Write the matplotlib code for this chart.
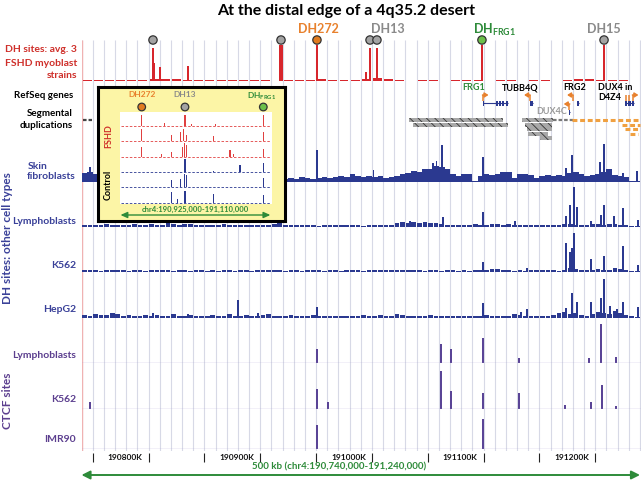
import numpy as np
import matplotlib
matplotlib.use("Agg")
import matplotlib.pyplot as plt

plt.rcParams['font.family'] = ['Lato', 'DejaVu Sans']
plt.rcParams['font.weight'] = 'bold'
plt.rcParams['mathtext.fontset'] = 'custom'
plt.rcParams['mathtext.rm'] = 'Lato:bold'
plt.rcParams['mathtext.it'] = 'Lato:bold'
plt.rcParams['mathtext.bf'] = 'Lato:bold'
plt.rcParams['hatch.linewidth'] = 0.6

# ------------------------------------------------------------------ data (kb)
region_start, region_end = 190740, 191240
grid_step = 10
tick_minor = [190750, 190850, 190950, 191050, 191150]
tick_major = [190800, 190900, 191000, 191100, 191200]
tick_labels = ["190800K", "190900K", "191000K", "191100K", "191200K"]

dh_sites_kb = [190804.0, 190918.6, 190950.8, 190998.3, 191004.5, 191098.5, 191207.8]
dh_sites_kind = ['other', 'other', 'DH272', 'other', 'other', 'FRG1', 'other']

# FSHD myoblasts (average of 3)
fshd_peaks_kb = [190804.0, 190805.4, 190810.3, 190835.3, 190918.6, 190950.8,
                 190994.7, 190998.3, 191004.5, 191098.5, 191207.8]
fshd_peaks_h = [0.89, 0.49, 0.38, 0.41, 0.97, 0.97, 0.24, 0.89, 0.89, 0.97, 0.97]
fshd_peaks_w = [1.2, 1.2, 1.2, 1.2, 3.0, 1.5, 1.2, 1.5, 2.5, 1.5, 1.5]
fshd_bg = [0.03, 0.04, 0.03, 0.03, 0.04, 0.03, 0.05, 0.06, 0.05, 0.03,
           0.03, 0.04, 0.02, 0.03, 0.03, 0.04, 0.03, 0.00, 0.03, 0.03,
           0.04, 0.05, 0.04, 0.03, 0.04, 0.06, 0.07, 0.06, 0.03, 0.00,
           0.03, 0.02, 0.00, 0.03, 0.02, 0.03, 0.00, 0.02, 0.03, 0.00,
           0.02, 0.03, 0.00, 0.02, 0.05, 0.06, 0.04, 0.03, 0.02, 0.00]

# DH, other cell types (5 kb bins + peaks)
skin_bg = [0.22, 0.25, 0.20, 0.15, 0.16, 0.15, 0.17, 0.15, 0.14, 0.15,
           0.15, 0.14, 0.15, 0.17, 0.15, 0.14, 0.15, 0.15, 0.17, 0.15,
           0.14, 0.15, 0.15, 0.14, 0.15, 0.17, 0.15, 0.14, 0.15, 0.15,
           0.14, 0.15, 0.17, 0.15, 0.10, 0.09, 0.08, 0.10, 0.07, 0.12,
           0.10, 0.08, 0.10, 0.12, 0.10, 0.12, 0.15, 0.12, 0.20, 0.14,
           0.12, 0.14, 0.12, 0.15, 0.10, 0.12, 0.15, 0.18, 0.22, 0.26,
           0.25, 0.30, 0.32, 0.38, 0.35, 0.30, 0.20, 0.14, 0.20, 0.18,
           0.03, 0.15, 0.18, 0.16, 0.20, 0.25, 0.24, 0.10, 0.20, 0.18,
           0.16, 0.10, 0.14, 0.16, 0.14, 0.17, 0.15, 0.22, 0.25, 0.20,
           0.15, 0.16, 0.18, 0.25, 0.30, 0.16, 0.15, 0.12, 0.03, 0.03]
skin_peaks_kb = [190747.6, 190950.8, 191001.4, 191054.7, 191058.0, 191062.7, 191099.4,
                 191173.8, 191179.2, 191204.2, 191207.8, 191224.8, 191237.3]
skin_peaks_h = [0.35, 0.76, 0.29, 0.45, 0.50, 0.88, 0.60, 0.33, 0.64, 0.48, 0.90, 0.21, 0.26]

lymph_bg = [0.05, 0.06, 0.04, 0.05, 0.07, 0.05, 0.04, 0.06, 0.05, 0.08,
            0.06, 0.05, 0.07, 0.06, 0.05, 0.09, 0.07, 0.06, 0.08, 0.07,
            0.06, 0.05, 0.04, 0.06, 0.05, 0.07, 0.06, 0.05, 0.04, 0.06,
            0.05, 0.04, 0.06, 0.05, 0.07, 0.10, 0.06, 0.05, 0.04, 0.06,
            0.05, 0.04, 0.03, 0.05, 0.04, 0.06, 0.05, 0.04, 0.05, 0.04,
            0.03, 0.04, 0.05, 0.04, 0.06, 0.05, 0.10, 0.12, 0.10, 0.12,
            0.10, 0.12, 0.11, 0.09, 0.08, 0.06, 0.05, 0.04, 0.06, 0.05,
            0.07, 0.06, 0.05, 0.08, 0.07, 0.06, 0.08, 0.06, 0.04, 0.05,
            0.04, 0.06, 0.05, 0.04, 0.05, 0.06, 0.08, 0.07, 0.06, 0.05,
            0.06, 0.07, 0.08, 0.06, 0.07, 0.08, 0.06, 0.04, 0.03, 0.03]
lymph_peaks_kb = [191034.1, 191063.6, 191099.4, 191128.1, 191173.8, 191177.4, 191181.0,
                  191183.7, 191196.1, 191205.1, 191207.8, 191216.7, 191224.8, 191238.2]
lymph_peaks_h = [0.15, 0.25, 0.37, 0.15, 0.27, 0.56, 1.00, 0.50, 0.14, 0.31, 0.56, 0.27, 0.48, 0.17]

k562_bg = [0.06, 0.04, 0.05, 0.03, 0.04, 0.06, 0.05, 0.04, 0.03, 0.05,
           0.04, 0.03, 0.05, 0.04, 0.06, 0.04, 0.03, 0.04, 0.05, 0.03,
           0.04, 0.05, 0.03, 0.04, 0.03, 0.05, 0.04, 0.03, 0.05, 0.04,
           0.03, 0.04, 0.05, 0.06, 0.04, 0.05, 0.03, 0.04, 0.05, 0.03,
           0.04, 0.05, 0.04, 0.03, 0.05, 0.04, 0.03, 0.04, 0.05, 0.04,
           0.03, 0.05, 0.04, 0.06, 0.05, 0.04, 0.05, 0.06, 0.04, 0.05,
           0.04, 0.03, 0.05, 0.04, 0.03, 0.04, 0.05, 0.03, 0.04, 0.03,
           0.04, 0.05, 0.06, 0.08, 0.07, 0.05, 0.04, 0.03, 0.04, 0.03,
           0.05, 0.04, 0.06, 0.05, 0.04, 0.03, 0.05, 0.10, 0.08, 0.05,
           0.04, 0.05, 0.08, 0.06, 0.05, 0.09, 0.07, 0.04, 0.02, 0.02]
k562_peaks_kb = [191099.4, 191138.8, 191173.8, 191177.4, 191179.2, 191181.0,
                 191196.1, 191207.8, 191224.8, 191238.2]
k562_peaks_h = [0.25, 0.10, 0.72, 0.50, 0.60, 0.98, 0.32, 0.40, 0.64, 0.17]

hepg2_bg = [0.08, 0.06, 0.10, 0.08, 0.07, 0.11, 0.09, 0.06, 0.08, 0.05,
            0.06, 0.08, 0.05, 0.07, 0.06, 0.05, 0.09, 0.06, 0.05, 0.07,
            0.05, 0.06, 0.04, 0.07, 0.06, 0.05, 0.10, 0.06, 0.05, 0.07,
            0.06, 0.05, 0.07, 0.09, 0.06, 0.05, 0.06, 0.08, 0.05, 0.06,
            0.05, 0.07, 0.05, 0.06, 0.04, 0.06, 0.05, 0.04, 0.06, 0.05,
            0.07, 0.06, 0.05, 0.08, 0.06, 0.05, 0.09, 0.07, 0.06, 0.05,
            0.06, 0.05, 0.07, 0.05, 0.06, 0.04, 0.05, 0.06, 0.04, 0.05,
            0.06, 0.05, 0.07, 0.06, 0.05, 0.04, 0.06, 0.10, 0.08, 0.06,
            0.05, 0.04, 0.06, 0.05, 0.07, 0.12, 0.15, 0.10, 0.12, 0.08,
            0.06, 0.10, 0.14, 0.12, 0.10, 0.16, 0.12, 0.08, 0.04, 0.02]
hepg2_peaks_kb = [190804.0, 190835.3, 190880.1, 190898.0, 190950.8, 191099.4, 191133.5,
                  191138.8, 191173.8, 191179.2, 191183.7, 191196.1, 191205.1, 191207.8,
                  191213.2, 191219.4, 191224.8, 191238.2]
hepg2_peaks_h = [0.12, 0.10, 0.43, 0.12, 0.26, 0.37, 0.15, 0.21, 0.24, 0.60, 0.40, 0.39,
                 0.50, 0.96, 0.30, 0.22, 0.39, 0.26]

# CTCF sites
ctcf_lymph_kb = [190950.8, 191061.8, 191070.8, 191099.4, 191131.7, 191194.3, 191205.1, 191218.5]
ctcf_lymph_h = [0.36, 0.48, 0.36, 0.63, 0.13, 0.12, 0.98, 0.14]
ctcf_k562_kb = [190747.6, 190950.8, 190960.7, 191061.8, 191070.8, 191099.4, 191131.7,
                191172.9, 191196.1, 191206.0, 191218.5]
ctcf_k562_h = [0.16, 0.50, 0.17, 0.93, 0.45, 0.39, 0.39, 0.09, 0.17, 0.59, 0.08]
ctcf_imr90_kb = [190950.8, 191099.4]
ctcf_imr90_h = [0.66, 0.82]

# RefSeq genes
gene_names = ['FRG1', 'TUBB4Q', 'FRG2', 'DUX4C', 'DUX4']
gene_strand = ['+', '-', '-', '-', '+']
gene_start = [191099.4, 191141.5, 191183.3, 191176.0, 191226.6]
gene_end = [191122.1, 191143.9, 191185.7, 191177.3, 191234.6]
gene_exons = [[(191099.4, 191100.3), (191111.1, 191112.6), (191113.8, 191115.4),
               (191116.5, 191118.3), (191119.8, 191122.1)],
              [(191141.5, 191143.9)],
              [(191183.3, 191185.7)],
              [(191176.0, 191177.3)],
              [(191226.6, 191228.4), (191229.7, 191231.5), (191232.8, 191234.6)]]
gene_tss = [[191099.4], [191141.2], [191179.7], [191176.7], [191227.2, 191230.4, 191233.6]]

# Segmental duplications
segdup_start = [191033.2, 191036.8, 191134.4, 191137.1, 191138.9, 191139.8, 191150.5]
segdup_end = [191117.3, 191121.8, 191162.2, 191161.3, 191161.3, 191157.7, 191161.3]
segdup_row = [0, 1, 0, 1, 2, 3, 4]
segdash_start = [190741.3, 191162.2, 191179.2, 191223.9, 191226.6, 191231.1]
segdash_end = [190749.4, 191180.1, 191240.0, 191240.0, 191240.0, 191238.2]
segdash_row = [0, 0, 0, 1, 2, 3]
segdash_kind = ['dark', 'gray', 'orange', 'orange', 'orange', 'orange']

# Inset: chr4:190,925,000-191,110,000, 3 FSHD and 3 control strains
inset_start, inset_end = 190925, 191110
inset_sites_kb = [190951.2, 191004.6, 191101.3]
inset_rows_kb = [
    [190951.2, 190979.9, 191004.6, 191012.9, 191041.7, 191101.3],
    [190951.2, 190988.2, 190998.5, 191003.0, 191006.0, 191039.6, 191101.3],
    [190951.2, 190975.9, 190988.2, 191001.0, 191004.0, 191006.5, 191060.2, 191064.0, 191101.3],
    [191004.6, 191039.6, 191072.5, 191101.3],
    [190988.2, 190998.5, 191003.5, 191006.0, 191101.3],
    [190988.2, 190995.0, 191004.6, 191039.6, 191101.3],
]
inset_rows_h = [
    [0.85, 0.25, 0.85, 0.12, 0.15, 0.85],
    [0.90, 0.50, 0.70, 0.90, 0.50, 0.40, 0.70],
    [0.70, 0.20, 0.35, 0.70, 1.00, 0.85, 0.50, 0.20, 0.60],
    [1.00, 0.10, 0.50, 0.70],
    [0.55, 0.60, 1.00, 0.95, 0.70],
    [0.80, 0.30, 0.90, 0.65, 0.60],
]
inset_rows_group = ['FSHD', 'FSHD', 'FSHD', 'Control', 'Control', 'Control']

# ------------------------------------------------------------------ style / layout
W, H = 641, 482
RED = '#d7262c'
RED_TXT = '#cf2f2a'
BLUE = '#2b3990'
BLUE_TXT = '#3a4199'
PURPLE = '#5a4496'
PURPLE_TXT = '#5c3f8f'
GREEN = '#2e8b3a'
ORANGE = '#e8812d'
GRID = '#d7d9e6'
site_fill = {'other': '#a3a3a3', 'DH272': '#e07b20', 'FRG1': '#6cc04a'}

PX_PER_KB = 1.117
DATA_LEFT = 81.5
XLIM = (region_start, region_start + (W - DATA_LEFT) / PX_PER_KB)
INSET_PX_PER_KB = 0.81
INSET_LEFT = 120.5


def kb_at(px):
    return region_start + (px - DATA_LEFT) / PX_PER_KB


def inset_kb_at(px):
    return inset_start + (px - INSET_LEFT) / INSET_PX_PER_KB


fig = plt.figure(figsize=(W / 100, H / 100), dpi=100)


def add_axes_px(x0, y0, x1, y1):
    return fig.add_axes([x0 / W, 1 - y1 / H, (x1 - x0) / W, (y1 - y0) / H])


def ftext(x, y, s, **kw):
    fig.text(x / W, 1 - y / H, s, **kw)


# grid
gax = add_axes_px(DATA_LEFT, 40, W, 451)
gax.set_xlim(XLIM)
gax.set_ylim(0, 1)
gax.axis('off')
gax.set_zorder(1)
grid_kb = np.arange(region_start, region_end + 1, grid_step)
gax.vlines(grid_kb, 0, 1, color=GRID, lw=0.8)
gax.vlines([region_start], 0, 1, color='#f0b2b2', lw=1.0)


def track(top, bottom, zorder=3):
    ax = add_axes_px(DATA_LEFT, top, W, bottom)
    ax.set_xlim(XLIM)
    ax.set_ylim(0, 1)
    ax.axis('off')
    ax.set_zorder(zorder)
    return ax


bins50 = region_start + 5 + 10 * np.arange(len(fshd_bg))
bins100 = region_start + 2.5 + 5 * np.arange(len(skin_bg))

# FSHD track
ax = track(44, 81)
ax.bar(bins50, fshd_bg, width=8, color=RED, lw=0)
ax.bar(fshd_peaks_kb, fshd_peaks_h, width=fshd_peaks_w, color=RED, lw=0)

# DH other cell types
for (top, bot), bg, pk, ph, bw in [((140, 182), skin_bg, skin_peaks_kb, skin_peaks_h, 5.0),
                                   ((187, 227), lymph_bg, lymph_peaks_kb, lymph_peaks_h, 4.2),
                                   ((232, 272), k562_bg, k562_peaks_kb, k562_peaks_h, 4.2),
                                   ((277, 318), hepg2_bg, hepg2_peaks_kb, hepg2_peaks_h, 4.2)]:
    ax = track(top, bot)
    ax.plot([region_start, region_end], [0.005, 0.005], color=BLUE, lw=0.7)
    ax.bar(bins100, bg, width=bw, color=BLUE, lw=0)
    ax.bar(pk, ph, width=1.3, color=BLUE, lw=0)

# CTCF tracks
for (top, bot), pk, ph in [((323, 363), ctcf_lymph_kb, ctcf_lymph_h),
                           ((368, 409), ctcf_k562_kb, ctcf_k562_h),
                           ((412, 449), ctcf_imr90_kb, ctcf_imr90_h)]:
    ax = track(top, bot)
    ax.plot([region_start, region_end], [0.01, 0.01], color='#9c8fc9', lw=0.9)
    ax.bar(pk, ph, width=1.2, color=PURPLE, lw=0)

# overlay (x in kb, y in pixels)
ov = add_axes_px(DATA_LEFT, 0, W, H)
ov.set_xlim(XLIM)
ov.set_ylim(H, 0)
ov.axis('off')
ov.set_zorder(4)

ov.scatter(dh_sites_kb, [40] * len(dh_sites_kb), s=36,
           c=[site_fill[k] for k in dh_sites_kind], edgecolors='#333333',
           linewidths=0.9, zorder=6, clip_on=False)
ov.text(kb_at(318), 29, 'DH272', color=ORANGE, fontsize=9, ha='center', va='center')
ov.text(kb_at(388), 29, 'DH13', color='#8a8a8a', fontsize=9, ha='center', va='center')
ov.text(kb_at(494), 30, r'DH$_{\rm FRG1}$', color=GREEN, fontsize=9, ha='center', va='center')
ov.text(kb_at(604), 29, 'DH15', color='#8a8a8a', fontsize=9, ha='center', va='center')

# genes
gene_y = {'FRG1': 103, 'TUBB4Q': 103, 'FRG2': 103, 'DUX4C': 112, 'DUX4': 103}
for name, strand, g0, g1, exons, tss in zip(gene_names, gene_strand, gene_start,
                                             gene_end, gene_exons, gene_tss):
    y = gene_y[name]
    ov.plot([g0, g1], [y, y], color=BLUE, lw=0.8, solid_capstyle='butt')
    for e0, e1 in exons:
        ov.barh(y, e1 - e0, left=e0, height=5, color=BLUE, lw=0)
    d = 5.0 if strand == '+' else -5.0
    for i, t in enumerate(tss):
        ov.plot([t, t], [y - 2, y - 8], color=ORANGE, lw=1.1, solid_capstyle='butt')
        if i == len(tss) - 1:
            ov.annotate('', xy=(t + d, y - 8), xytext=(t - 0.4 * np.sign(d), y - 8),
                        arrowprops=dict(arrowstyle='-|>,head_length=0.22,head_width=0.14',
                                        color=ORANGE, lw=1.1, shrinkA=0, shrinkB=0))

ov.text(kb_at(474), 88, 'FRG1', color=GREEN, fontsize=6.5, ha='center', va='center')
ov.text(kb_at(520), 88, 'TUBB4Q', color='black', fontsize=6.5, ha='center', va='center')
ov.text(kb_at(575), 88, 'FRG2', color='black', fontsize=6.5, ha='center', va='center')
ov.text(kb_at(598), 88, 'DUX4 in', color='black', fontsize=6.5, ha='left', va='center')
ov.text(kb_at(598), 98, 'D4Z4', color='black', fontsize=6.5, ha='left', va='center')
ov.text(kb_at(552), 112, 'DUX4C', color='#9a9a9a', fontsize=6.5, ha='center', va='center')

# segmental duplications
row_y = [120, 124.5, 129, 133.5, 138]
ov.barh([row_y[r] for r in segdup_row],
        [e - s for s, e in zip(segdup_start, segdup_end)], left=segdup_start,
        height=4, color='#a8a8a8', edgecolor='#333333', hatch='\\\\\\\\', lw=0)
dash_col = {'dark': '#444444', 'gray': '#777777', 'orange': '#f0a040'}
for s, e, r, k in zip(segdash_start, segdash_end, segdash_row, segdash_kind):
    ov.plot([s, e], [row_y[r], row_y[r]], color=dash_col[k],
            lw=2.2 if k == 'orange' else 1.6, ls=(0, (1.6, 0.9)), solid_capstyle='butt')

# coordinate axis
ov.vlines(tick_minor + tick_major, 453, 462, color='#222222', lw=0.8)
for t, lab in zip(tick_major, tick_labels):
    ov.text(t - 6 / PX_PER_KB, 458, lab, fontsize=6, ha='right', va='center', color='#111111')
ov.annotate('', xy=(region_start, 475), xytext=(region_end, 475),
            arrowprops=dict(arrowstyle='<|-|>,head_length=0.5,head_width=0.25',
                            color=GREEN, lw=1.4, shrinkA=0, shrinkB=0))
ov.text(kb_at(339), 466.5, '500 kb (chr4:190,740,000-191,240,000)', color=GREEN,
        fontsize=7, ha='center', va='center')

# ------------------------------------------------------------------ inset
box = add_axes_px(98, 87, 285, 221)
box.set_zorder(10)
box.set_facecolor('#fcf5a6')
box.set_xlim(inset_kb_at(98), inset_kb_at(285))
box.set_ylim(221, 87)
box.set_xticks([])
box.set_yticks([])
for sp in box.spines.values():
    sp.set_linewidth(2.2)
    sp.set_color('black')

box.scatter(inset_sites_kb, [107] * 3, s=30, c=['#e07b20', '#a3a3a3', '#6cc04a'],
            edgecolors='#333333', linewidths=0.9, zorder=5)
box.text(inset_kb_at(142), 95, 'DH272', color=ORANGE, fontsize=6, ha='center', va='center')
box.text(inset_kb_at(185), 95, 'DH13', color='#8a8a8a', fontsize=6, ha='center', va='center')
box.text(inset_kb_at(262), 96, r'DH$_{\rm FRG1}$', color=GREEN, fontsize=6, ha='center', va='center')
box.text(inset_kb_at(108.5), 136.5, 'FSHD', color=RED_TXT, fontsize=6.5, rotation=90,
         ha='center', va='center')
box.text(inset_kb_at(108.5), 185, 'Control', color='black', fontsize=6.5, rotation=90,
         ha='center', va='center')
box.annotate('', xy=(inset_start, 215), xytext=(inset_end, 215),
             arrowprops=dict(arrowstyle='<|-|>,head_length=0.4,head_width=0.18',
                             color=GREEN, lw=1.0, shrinkA=0, shrinkB=0))
box.text((inset_start + inset_end) / 2, 209.5, 'chr4:190,925,000-191,110,000', color=GREEN,
         fontsize=5.5, ha='center', va='center')

wax = add_axes_px(120, 112, 272, 204)
wax.set_zorder(11)
wax.set_facecolor('white')
wax.set_xticks([])
wax.set_yticks([])
for sp in wax.spines.values():
    sp.set_visible(False)

row_h = (204 - 112) / 6.0
for k, (kbs, hs, grp) in enumerate(zip(inset_rows_kb, inset_rows_h, inset_rows_group)):
    rax = add_axes_px(120, 112 + k * row_h, 272, 112 + (k + 1) * row_h)
    rax.set_zorder(12)
    rax.axis('off')
    rax.set_xlim(inset_kb_at(120), inset_kb_at(272))
    rax.set_ylim(-0.1, 1.05)
    col = '#e04040' if grp == 'FSHD' else BLUE
    rax.plot([inset_start, inset_end], [0.0, 0.0], color=col, lw=0.6, ls=(0, (3, 2)))
    rax.bar(kbs, hs, width=1.3, color=col, lw=0)

# ------------------------------------------------------------------ labels
ftext(346, 11, 'At the distal edge of a 4q35.2 desert', fontsize=11.5, ha='center', va='center',
      color='black')
for yy, s in [(49, 'DH sites: avg. 3'), (63, 'FSHD myoblast'), (76, 'strains')]:
    ftext(77, yy, s, fontsize=7.5, ha='right', va='center', color=RED_TXT)
ftext(73, 95, 'RefSeq genes', fontsize=7, ha='right', va='center', color='black')
ftext(73, 113, 'Segmental', fontsize=7, ha='right', va='center', color='black')
ftext(73, 126, 'duplications', fontsize=7, ha='right', va='center', color='black')
ftext(76, 171.5, 'Skin\nfibroblasts', fontsize=7.5, ha='right', va='center',
      multialignment='left', color=BLUE_TXT, linespacing=1.2)
ftext(76, 222, 'Lymphoblasts', fontsize=7.5, ha='right', va='center', color=BLUE_TXT)
ftext(76, 265, 'K562', fontsize=7.5, ha='right', va='center', color=BLUE_TXT)
ftext(76, 310, 'HepG2', fontsize=7.5, ha='right', va='center', color=BLUE_TXT)
ftext(76, 356, 'Lymphoblasts', fontsize=7.5, ha='right', va='center', color=PURPLE_TXT)
ftext(76, 400, 'K562', fontsize=7.5, ha='right', va='center', color=PURPLE_TXT)
ftext(76, 439, 'IMR90', fontsize=7.5, ha='right', va='center', color=PURPLE_TXT)
ftext(8, 238, 'DH sites: other cell types', fontsize=8.5, rotation=90, ha='center',
      va='center', color=BLUE_TXT)
ftext(8, 401, 'CTCF sites', fontsize=8.5, rotation=90, ha='center', va='center',
      color=PURPLE_TXT)

fig.savefig('out.png', dpi=100)
